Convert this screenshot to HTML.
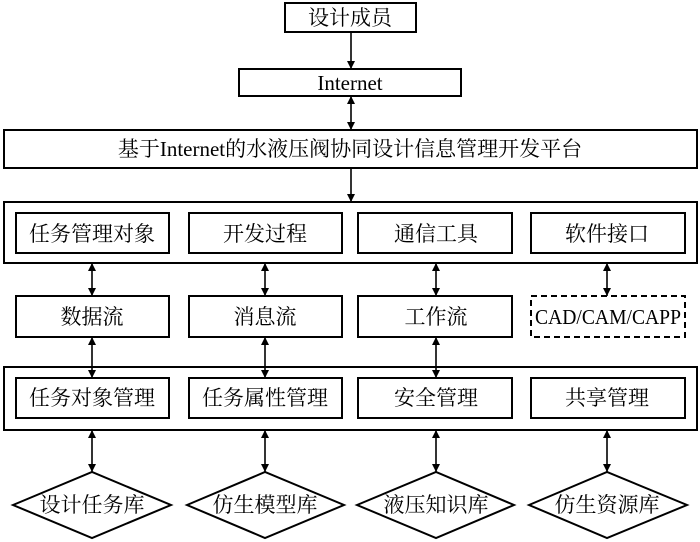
<!DOCTYPE html>
<html><head><meta charset="utf-8"><style>body{margin:0;background:#fff}svg{display:block}text{font-family:"Liberation Serif","Noto Serif CJK SC",serif;font-size:21px;fill:#000}</style></head><body>
<svg width="700" height="542" viewBox="0 0 700 542">
<defs><marker id="a" viewBox="0 0 10 10" refX="10" refY="5" markerWidth="8" markerHeight="11" orient="auto-start-reverse" markerUnits="userSpaceOnUse"><path d="M0,0L10,5L0,10z" fill="#000"/></marker></defs>
<g fill="none" stroke="#000" stroke-width="2">
<rect x="285" y="3" width="131" height="29"/>
<rect x="239" y="69" width="222" height="27"/>
<rect x="4" y="130" width="693" height="38"/>
<rect x="4" y="202" width="693" height="61"/>
<rect x="16" y="213" width="153" height="40"/><rect x="189" y="213" width="153" height="40"/><rect x="358" y="213" width="154" height="40"/><rect x="531" y="213" width="154" height="40"/>
<rect x="16" y="296" width="153" height="41"/><rect x="189" y="296" width="153" height="41"/><rect x="358" y="296" width="154" height="41"/><rect x="531" y="296" width="154" height="41" stroke-dasharray="6,4"/>
<rect x="4" y="367" width="693" height="63"/>
<rect x="16" y="378" width="153" height="40"/><rect x="189" y="378" width="153" height="40"/><rect x="358" y="378" width="154" height="40"/><rect x="531" y="378" width="154" height="40"/>
<path d="M13,505L92,472L171,505L92,538z"/><path d="M187,505L265,472L344,505L265,538z"/><path d="M357,505L436,472L514,505L436,538z"/><path d="M529,505L607,472L687,505L607,538z"/>
</g>
<g stroke="#000" stroke-width="1.6">
<line x1="351" y1="32" x2="351" y2="69" marker-end="url(#a)"/>
<line x1="351" y1="96" x2="351" y2="130" marker-start="url(#a)" marker-end="url(#a)"/>
<line x1="351" y1="168" x2="351" y2="202" marker-end="url(#a)"/>
<line x1="92" y1="263" x2="92" y2="296" marker-start="url(#a)" marker-end="url(#a)"/>
<line x1="265" y1="263" x2="265" y2="296" marker-start="url(#a)" marker-end="url(#a)"/>
<line x1="436" y1="263" x2="436" y2="296" marker-start="url(#a)" marker-end="url(#a)"/>
<line x1="607" y1="263" x2="607" y2="296" marker-start="url(#a)" marker-end="url(#a)"/>
<line x1="92" y1="337" x2="92" y2="378" marker-start="url(#a)" marker-end="url(#a)"/>
<line x1="265" y1="337" x2="265" y2="378" marker-start="url(#a)" marker-end="url(#a)"/>
<line x1="436" y1="337" x2="436" y2="378" marker-start="url(#a)" marker-end="url(#a)"/>
<line x1="92" y1="430" x2="92" y2="472" marker-start="url(#a)" marker-end="url(#a)"/>
<line x1="265" y1="430" x2="265" y2="472" marker-start="url(#a)" marker-end="url(#a)"/>
<line x1="436" y1="430" x2="436" y2="472" marker-start="url(#a)" marker-end="url(#a)"/>
<line x1="607" y1="430" x2="607" y2="472" marker-start="url(#a)" marker-end="url(#a)"/>
</g>
<g text-anchor="middle" dominant-baseline="central">
<text x="350" y="18">设计成员</text>
<text x="350" y="83">Internet</text>
<text x="350" y="149">基于Internet的水液压阀协同设计信息管理开发平台</text>
<text x="92" y="234">任务管理对象</text><text x="265" y="234">开发过程</text><text x="436" y="234">通信工具</text><text x="607" y="234">软件接口</text>
<text x="92" y="317">数据流</text><text x="265" y="317">消息流</text><text x="436" y="317">工作流</text><text x="608" y="317" textLength="146" lengthAdjust="spacingAndGlyphs">CAD/CAM/CAPP</text>
<text x="92" y="398">任务对象管理</text><text x="265" y="398">任务属性管理</text><text x="436" y="398">安全管理</text><text x="607" y="398">共享管理</text>
<text x="92" y="505">设计任务库</text><text x="265" y="505">仿生模型库</text><text x="436" y="505">液压知识库</text><text x="607" y="505">仿生资源库</text>
</g>
</svg>
</body></html>
